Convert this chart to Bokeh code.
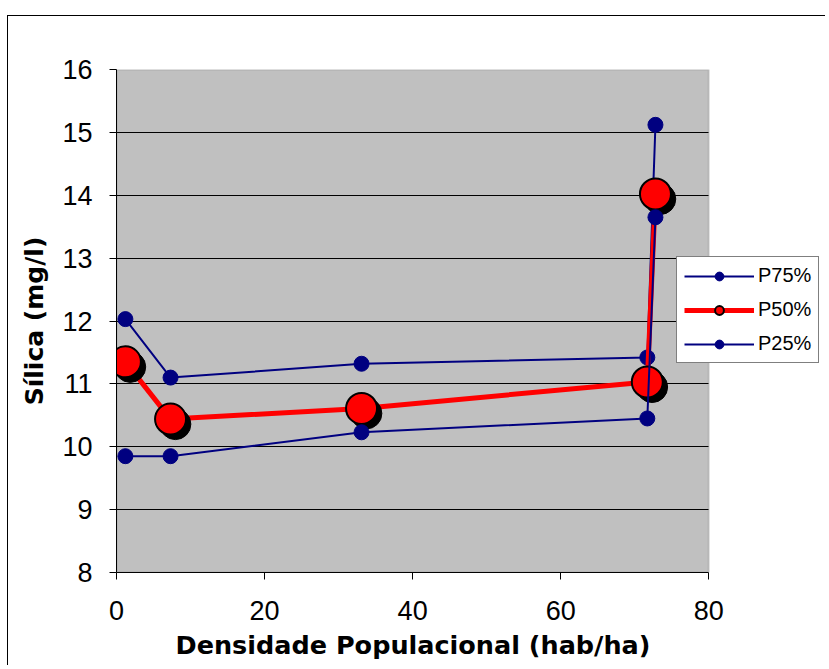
import numpy as np
from bokeh.plotting import figure
from bokeh.models import (ColumnDataSource, Legend, LegendItem, FixedTicker,
                          BoxAnnotation, Title)
from bokeh.transform import dodge
from bokeh.embed import file_html
from bokeh.resources import INLINE

# ---- data ----
density = [1.2, 7.3, 33.1, 71.7, 72.8]
p75 = [12.03, 11.10, 11.32, 11.42, 15.12]
p50 = [11.35, 10.44, 10.61, 11.03, 14.02]
p25 = [9.85, 9.85, 10.23, 10.45, 13.65]
x_ticks = [0, 20, 40, 60, 80]
y_ticks = [8, 9, 10, 11, 12, 13, 14, 15, 16]
series_labels = ["P75%", "P50%", "P25%"]
x_title = "Densidade Populacional (hab/ha)"
y_title = "Sílica (mg/l)"

src = ColumnDataSource(dict(x=density, p75=p75, p50=p50, p25=p25))

FONT = "Liberation Sans"
TITLE_FONT = "DejaVu Sans"
NAVY = "#000080"

X0, X1 = x_ticks[0], x_ticks[-1]
Y0, Y1 = y_ticks[0], y_ticks[-1]
X_END = 95.5   # frame extends past the plot area so the legend can overlap its edge

p = figure(width=818, height=650, x_range=(X0, X_END), y_range=(Y0, Y1),
           output_backend="svg", toolbar_location=None,
           min_border_left=108, min_border_right=3,
           min_border_top=53, min_border_bottom=94)
p.margin = (15, 0, 0, 7)
p.styles = {"border-top": "1px solid black", "border-left": "1px solid black"}

p.background_fill_color = "white"
p.border_fill_color = "white"
p.outline_line_color = None

# grey plot area
area = BoxAnnotation(left=X0, right=X1, bottom=Y0, top=Y1,
                     fill_color="#C0C0C0", fill_alpha=1,
                     line_color="#808080", line_width=2, level="image")
p.add_layout(area)

p.xgrid.visible = False
p.ygrid.ticker = FixedTicker(ticks=y_ticks)
p.ygrid.grid_line_color = "black"
p.ygrid.grid_line_width = 1
_grid_ok = True
try:
    p.ygrid.cross_bounds = (X0, X1)
except Exception:
    _grid_ok = False
if not _grid_ok:
    p.ygrid.visible = False
    inner = y_ticks[1:-1]
    p.segment(x0=[X0] * len(inner), x1=[X1] * len(inner), y0=inner, y1=inner,
              line_color="black", line_width=1, level="underlay")

p.xaxis.ticker = FixedTicker(ticks=x_ticks)
p.xaxis.bounds = (X0, X1)
p.yaxis.ticker = FixedTicker(ticks=y_ticks)
for ax in (p.xaxis, p.yaxis):
    ax.axis_line_color = "black"
    ax.axis_line_width = 1
    ax.major_tick_line_color = "black"
    ax.major_tick_in = 0
    ax.major_tick_out = 7
    ax.minor_tick_line_color = None
    ax.major_label_text_font = FONT
    ax.major_label_text_font_size = "27px"
    ax.major_label_text_color = "black"

p.xaxis.major_label_standoff = 21
p.yaxis.major_label_standoff = 17

p.yaxis.axis_label = y_title
p.yaxis.axis_label_text_font = TITLE_FONT
p.yaxis.axis_label_text_font_style = "bold"
p.yaxis.axis_label_text_font_size = "25px"
p.yaxis.axis_label_text_color = "black"
p.yaxis.axis_label_standoff = 10

# x title placed under the grey plot area (not centred on the extended frame)
xt = Title(text=x_title, align="left", offset=59,
           text_font=TITLE_FONT, text_font_style="bold", text_font_size="25.5px",
           text_color="black", standoff=10)
p.add_layout(xt, "below")

# P75
l75 = p.line("x", "p75", source=src, line_color=NAVY, line_width=2)
m75 = p.scatter("x", "p75", source=src, size=15, fill_color=NAVY, line_color=NAVY)

# P50 (with shadow)
l50 = p.line("x", "p50", source=src, line_color="red", line_width=5)
p.scatter(dodge("x", 0.65, range=p.x_range), dodge("p50", -0.08, range=p.y_range),
          source=src, size=31, fill_color="black", line_color="black")
m50 = p.scatter("x", "p50", source=src, size=31, fill_color="red",
                line_color="black", line_width=2)

# P25
l25 = p.line("x", "p25", source=src, line_color=NAVY, line_width=2)
m25 = p.scatter("x", "p25", source=src, size=15, fill_color=NAVY, line_color=NAVY)

legend = Legend(items=[
    LegendItem(label=series_labels[0], renderers=[l75, m75]),
    LegendItem(label=series_labels[1], renderers=[l50, m50]),
    LegendItem(label=series_labels[2], renderers=[l25, m25]),
], location=(560, 209))
legend.label_text_font = FONT
legend.label_text_font_size = "20px"
legend.label_text_color = "black"
legend.glyph_width = 70
legend.glyph_height = 22
legend.label_standoff = 4
legend.spacing = 11
legend.padding = 7
legend.margin = 0
legend.border_line_color = "black"
legend.border_line_width = 1
legend.background_fill_color = "white"
legend.background_fill_alpha = 1
p.add_layout(legend)

open("out.html", "w").write(file_html(p, INLINE))
